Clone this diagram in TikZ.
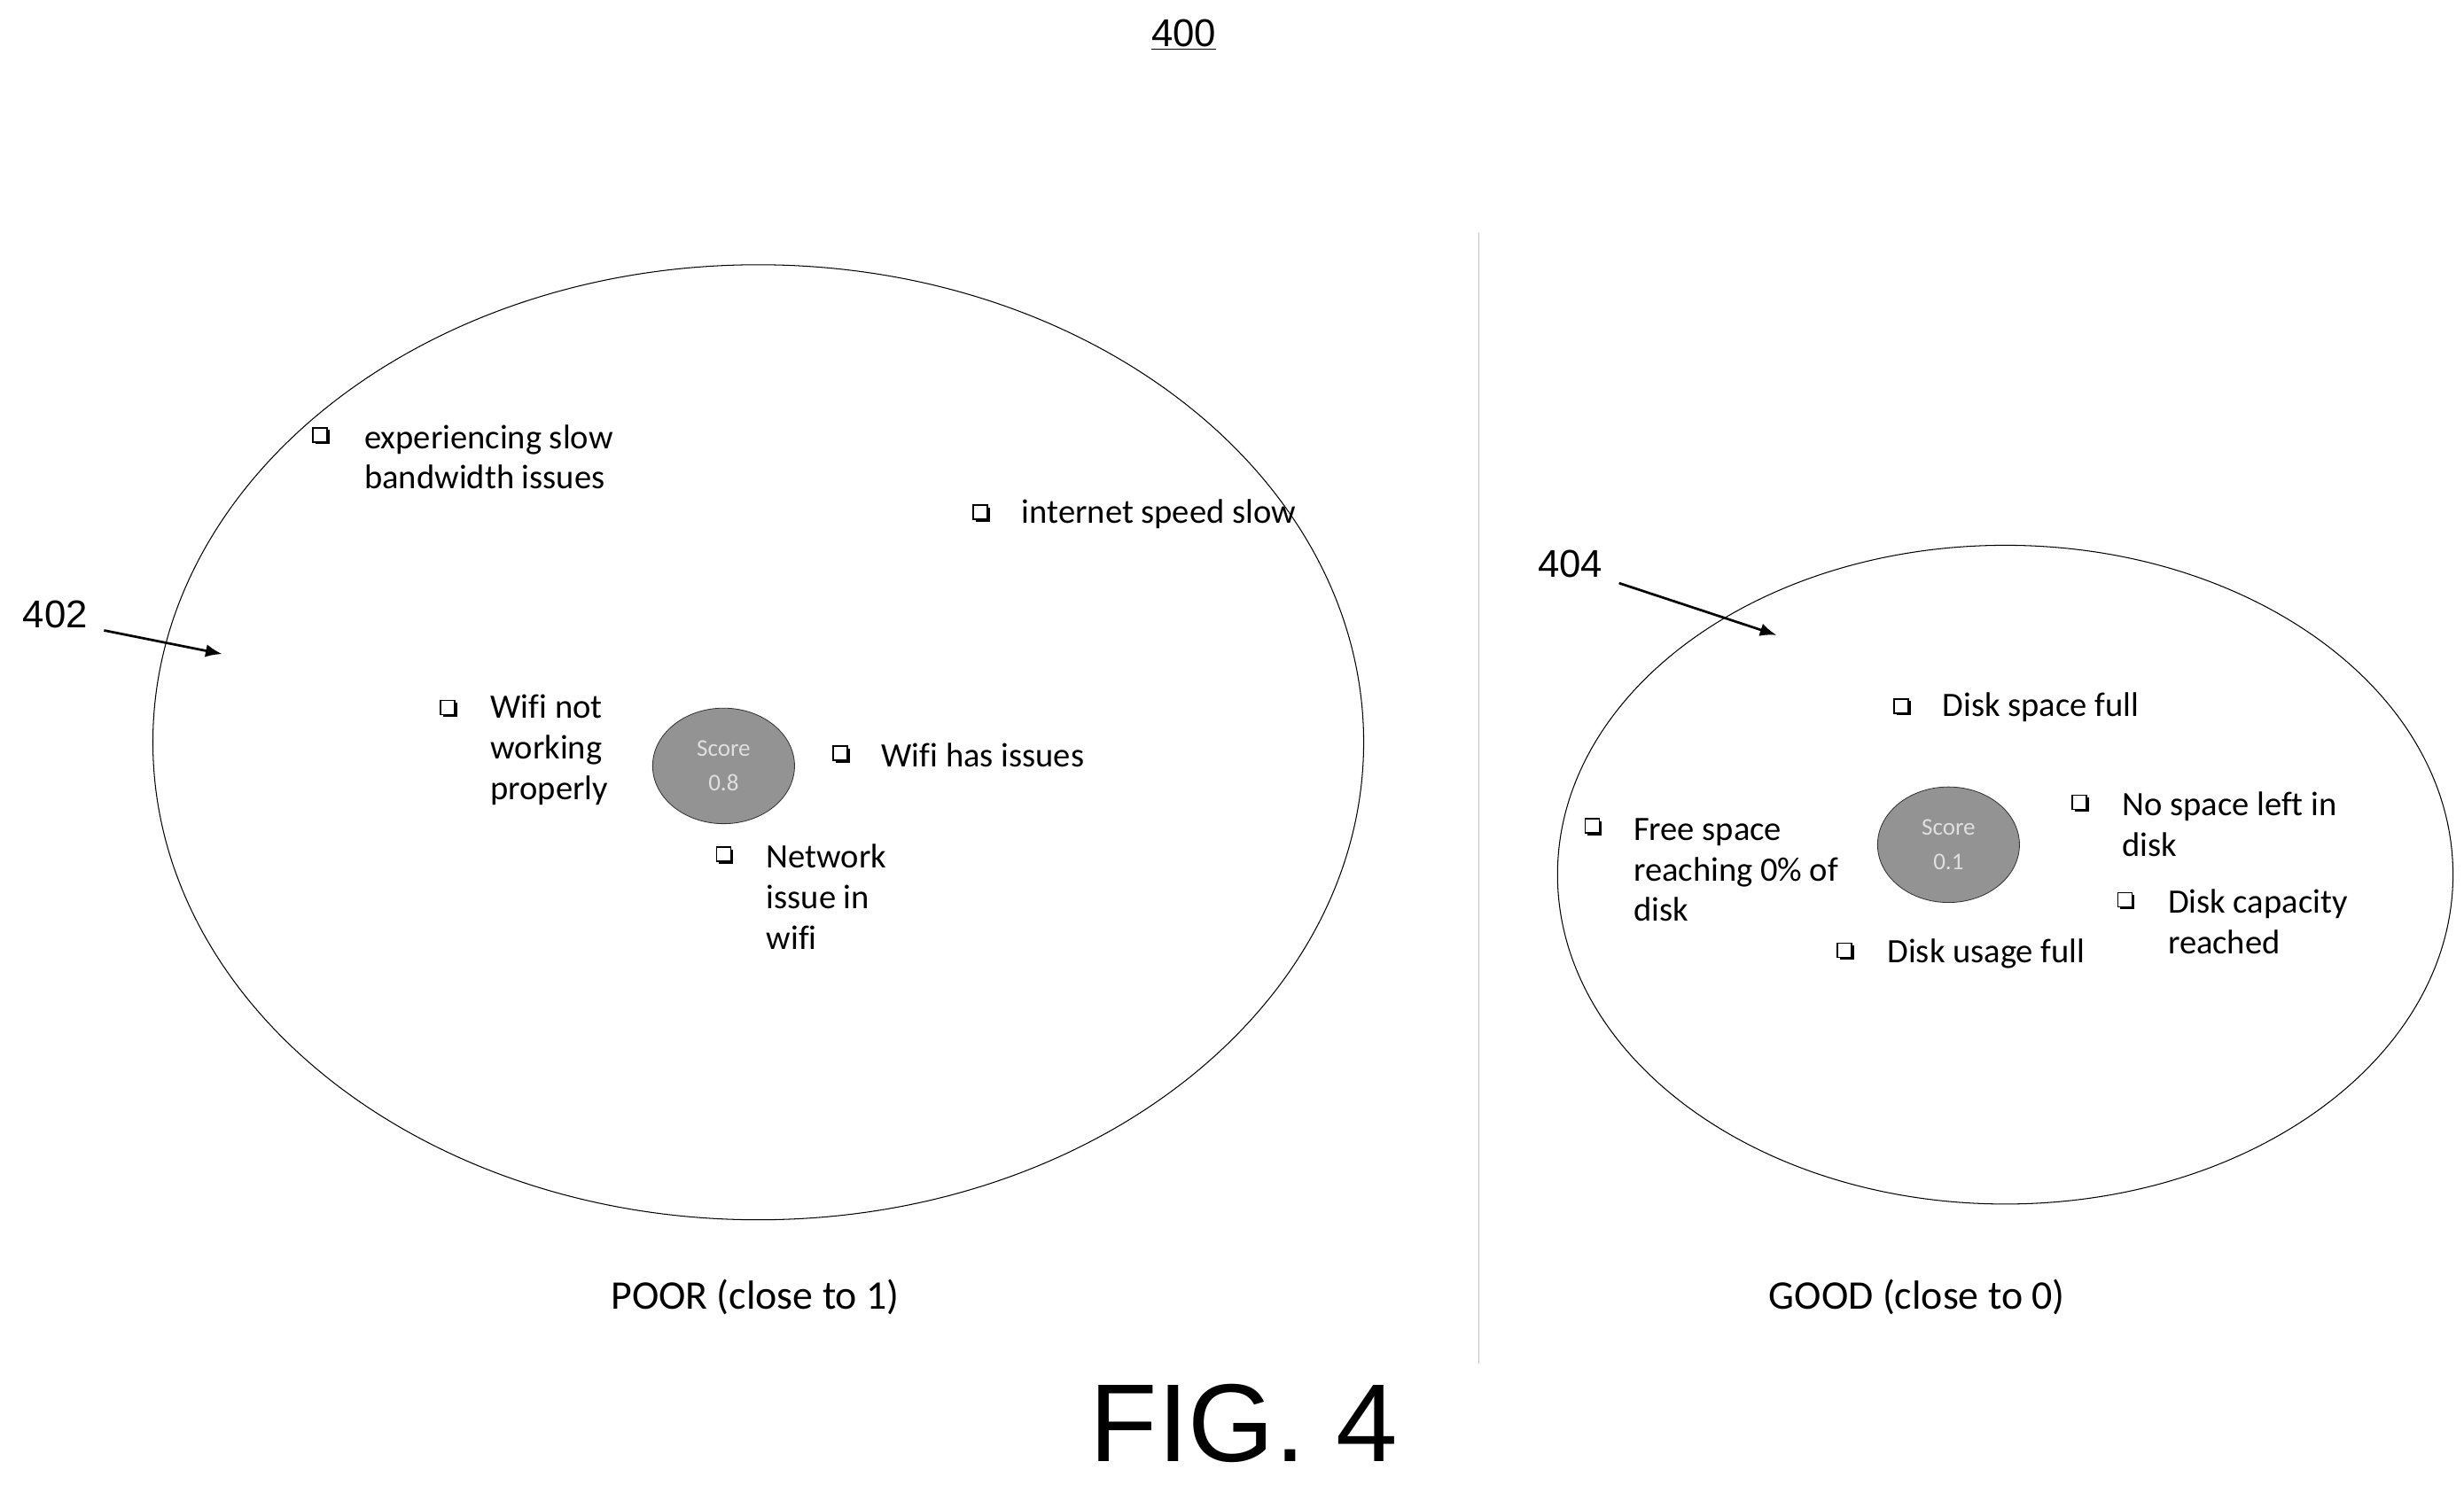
\documentclass[tikz,border=0pt]{standalone}
\usepackage{fontspec}
\setmainfont[Ligatures=NoCommon]{Carlito}
\newfontfamily\arialf{Liberation Sans}
\usetikzlibrary{shapes.geometric,shadows,arrows.meta}
\tikzset{
  lbl/.style={anchor=west,align=left,font=\fontsize{18.5}{22}\selectfont,inner sep=0},
  chk/.style={draw,fill=white,minimum size=0.27cm,inner sep=0,line width=0.8pt,
     drop shadow={shadow xshift=1.2pt,shadow yshift=-1.2pt,fill=black,opacity=1}},
  zone/.style={ellipse,draw,line width=0.5pt,inner sep=0},
  score/.style={ellipse,draw=gray!40!black,fill=gray!85,text=gray!25,inner sep=0,
     minimum width=2.7cm,minimum height=2.2cm,align=center,font=\fontsize{13}{19}\selectfont},
  num/.style={font=\arialf\fontsize{21}{24}\selectfont,inner sep=1pt},
  arr/.style={-{Latex[length=9pt,width=7pt]},line width=1.3pt}
}
\begin{document}
\begin{tikzpicture}[x=0.03cm,y=-0.03cm]
\useasboundingbox (0,0) rectangle (1563,942);
\node[num] (t400) at (751,22) {\underline{400}};
\draw[gray!50,line width=0.6pt] (938,148) -- (938,865);
\node[zone,minimum width=23.04cm,minimum height=18.18cm] (left) at (481,471) {};
\node[zone,minimum width=17.04cm,minimum height=12.54cm] (right) at (1272,555) {};
\node[num] (n402) at (35,390) {402};
\node[num] (n404) at (996,358) {404};
\coordinate (a402) at (141,415);
\coordinate (a404) at (1127,403);
\draw[arr] (66,400) -- (a402);
\draw[arr] (1027,370) -- (a404);
\node[score] (s1) at (459,486) {Score\\0.8};
\node[score] (s2) at (1236,536) {Score\\0.1};
% left bullets
\node[chk] (b1) at (203,276) {}; \node[lbl] (l1) at (231,290) {experiencing slow\\bandwidth issues};
\node[chk] (b2) at (622,325) {}; \node[lbl] (l2) at (648,326) {internet speed slow};
\node[chk] (b3) at (284,449) {}; \node[lbl] (l3) at (311,476) {Wifi not\\working\\properly};
\node[chk] (b4) at (533,478) {}; \node[lbl] (l4) at (559,479) {Wifi has issues};
\node[chk] (b5) at (459,542) {}; \node[lbl] (l5) at (486,569) {Network\\issue in\\wifi};
% right bullets
\node[chk] (b6) at (1206,448) {}; \node[lbl] (l6) at (1232,449) {Disk space full};
\node[chk] (b7) at (1010,524) {}; \node[lbl] (l7) at (1036,552) {Free space\\reaching 0\% of\\disk};
\node[chk] (b8) at (1319,509) {}; \node[lbl] (l8) at (1346,523) {No space left in\\disk};
\node[chk] (b9) at (1348,571) {}; \node[lbl] (l9) at (1375,585) {Disk capacity\\reached};
\node[chk] (b10) at (1170,603) {}; \node[lbl] (l10) at (1197,605) {Disk usage full};
\node[font=\fontsize{22}{24}\selectfont] (poor) at (479,823) {POOR (close to 1)};
\node[font=\fontsize{22}{24}\selectfont] (good) at (1216,823) {GOOD (close to 0)};
\node[font=\arialf\fontsize{60}{64}\selectfont] (fig) at (789,903) {FIG. 4};
\end{tikzpicture}
\end{document}
